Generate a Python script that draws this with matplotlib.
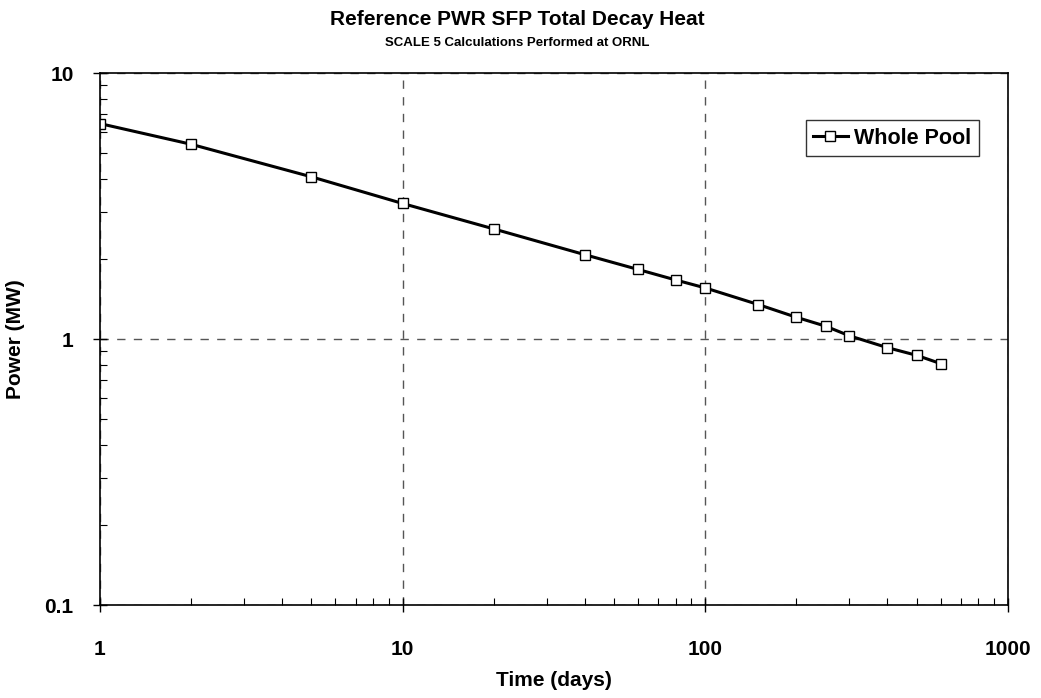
import matplotlib
matplotlib.use('Agg')
import matplotlib.pyplot as plt
from matplotlib.ticker import LogLocator, NullFormatter

# Datos
time_days = [1, 2, 5, 10, 20, 40, 60, 80, 100, 150, 200, 250, 300, 400, 500, 600]
power_mw = [6.47, 5.41, 4.08, 3.24, 2.60, 2.08, 1.83, 1.67, 1.56, 1.35, 1.21, 1.12,
            1.03, 0.93, 0.87, 0.81]

plt.rcParams['font.family'] = ['Liberation Sans', 'DejaVu Sans']
plt.rcParams['font.weight'] = 'bold'

fig = plt.figure(figsize=(10.41, 6.98), dpi=100)
ax = fig.add_axes([0.096, 0.133, 0.872, 0.762])

ax.plot(time_days, power_mw, color='black', linewidth=2.2, marker='s', markersize=6.5,
        markerfacecolor='white', markeredgecolor='black', markeredgewidth=1.0,
        label='Whole Pool')

ax.set_xscale('log')
ax.set_yscale('log')
ax.set_xlim(1, 1000)
ax.set_ylim(0.1, 10)

ax.set_xticks([1, 10, 100, 1000])
ax.set_xticklabels(['1', '10', '100', '1000'])
ax.set_yticks([0.1, 1, 10])
ax.set_yticklabels(['0.1', '1', '10'])
ax.xaxis.set_minor_locator(LogLocator(base=10, subs=range(2, 10)))
ax.yaxis.set_minor_locator(LogLocator(base=10, subs=range(2, 10)))
ax.xaxis.set_minor_formatter(NullFormatter())
ax.yaxis.set_minor_formatter(NullFormatter())

ax.tick_params(axis='x', which='major', pad=20)
ax.tick_params(axis='y', which='major', pad=14)
ax.tick_params(which='major', direction='inout', length=10, width=1, labelsize=15)
ax.tick_params(which='minor', direction='in', length=5, width=0.8)

ax.grid(True, which='major', linestyle=(0, (6, 6)), color='#555555', linewidth=1)
for s in ax.spines.values():
    s.set_linewidth(1.2)

ax.set_xlabel('Time (days)', fontsize=15, fontweight='bold', labelpad=9)
ax.set_ylabel('Power (MW)', fontsize=15, fontweight='bold', labelpad=14)

fig.text(0.497, 0.972, 'Reference PWR SFP Total Decay Heat', ha='center', va='center',
         fontsize=15, fontweight='bold')
fig.text(0.497, 0.939, 'SCALE 5 Calculations Performed at ORNL', ha='center', va='center',
         fontsize=9.5, fontweight='bold')

leg = ax.legend(loc='upper right', bbox_to_anchor=(0.968, 0.912), fontsize=15.5,
                frameon=True, fancybox=False, edgecolor='black', handlelength=1.6,
                handletextpad=0.3, borderpad=0.35, borderaxespad=0)
leg.get_frame().set_linewidth(1.0)

plt.savefig('out.png', dpi=100)
